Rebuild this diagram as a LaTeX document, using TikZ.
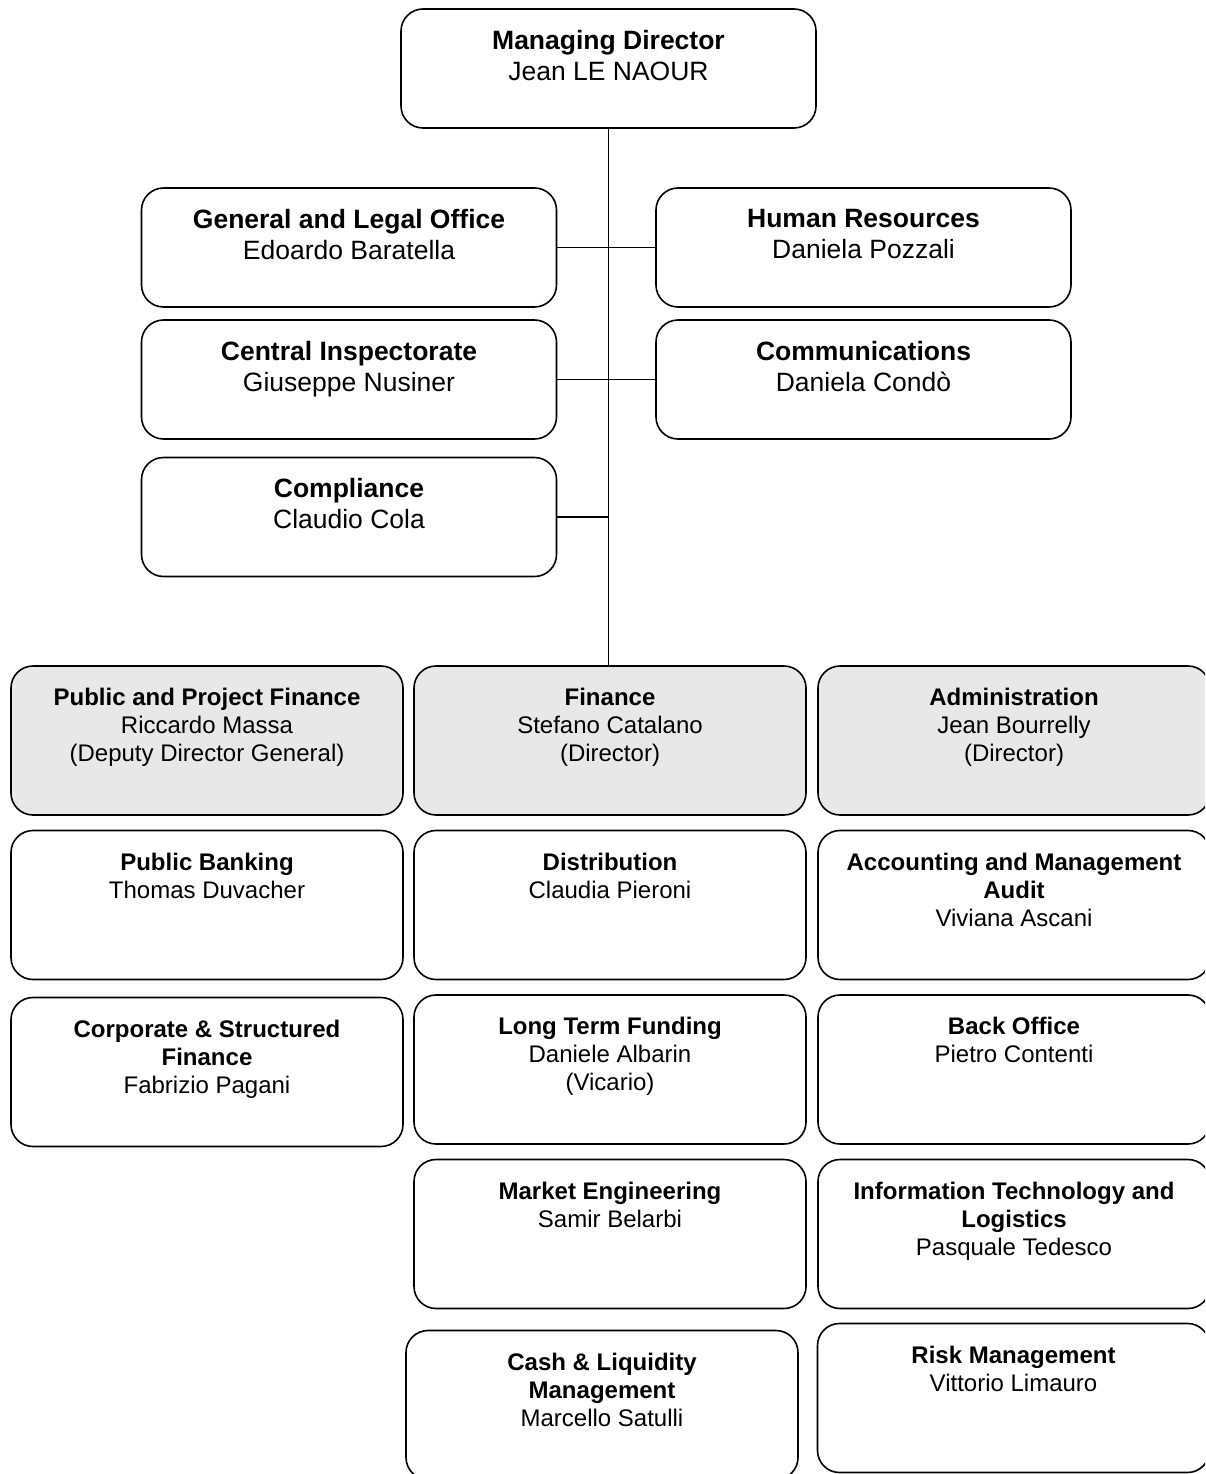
\documentclass[tikz,border=0pt]{standalone}
\usepackage{fontspec}
\setmainfont{Liberation Sans}
\definecolor{boxgray}{RGB}{232,232,232}
\begin{document}
\begin{tikzpicture}[x=1pt,y=-1pt,
  orgbox/.style={draw=black, line width=1.6pt, rounded corners=22pt, outer sep=0pt, inner sep=0pt, fill=white},
  topbox/.style={orgbox, minimum width=415pt, minimum height=119pt},
  unitbox/.style={orgbox, minimum width=392pt, minimum height=149pt},
  greybox/.style={unitbox, fill=boxgray},
  txt/.style={font=\fontsize{24}{28}\selectfont, align=center, inner sep=0pt, anchor=north},
  toptxt/.style={font=\fontsize{26.5}{31}\selectfont, align=center, inner sep=0pt, anchor=north},
  conn/.style={draw=black, line width=1.5pt}]
\useasboundingbox (0,0) rectangle (1205,1474);
\begin{scope}
\clip (0,0) rectangle (1205,1474);
% top boxes
\node[topbox] (md) at (608.5,68.5) {};
\node[topbox] (gen) at (349,247.5) {};
\node[topbox] (hr) at (863.5,247.5) {};
\node[topbox] (ci) at (349,379.5) {};
\node[topbox] (com) at (863.5,379.5) {};
\node[topbox] (cpl) at (349,517) {};
% directorates
\node[greybox] (ppf) at (207,740.5) {};
\node[greybox] (fin) at (610,740.5) {};
\node[greybox] (adm) at (1014,740.5) {};
% row 2
\node[unitbox] (pb) at (207,905) {};
\node[unitbox] (dis) at (610,905) {};
\node[unitbox] (acc) at (1014,905) {};
% row 3
\node[unitbox] (csf) at (207,1072) {};
\node[unitbox] (ltf) at (610,1069.5) {};
\node[unitbox] (bo) at (1014,1069.5) {};
% row 4
\node[unitbox] (me) at (610,1234) {};
\node[unitbox] (it) at (1014,1234) {};
% row 5
\node[unitbox] (cash) at (602,1405) {};
\node[unitbox] (risk) at (1013.5,1398) {};

% texts
\node[toptxt] (mdT) at ([yshift=-21pt]md.north) {\textbf{Managing Director}\\Jean LE NAOUR};
\node[toptxt] (genT) at ([yshift=-21pt]gen.north) {\textbf{General and Legal Office}\\Edoardo Baratella};
\node[toptxt] (hrT) at ([yshift=-21pt]hr.north) {\textbf{Human Resources}\\Daniela Pozzali};
\node[toptxt] (ciT) at ([yshift=-21pt]ci.north) {\textbf{Central Inspectorate}\\Giuseppe Nusiner};
\node[toptxt] (comT) at ([yshift=-21pt]com.north) {\textbf{Communications}\\Daniela Condò};
\node[toptxt] (cplT) at ([yshift=-21pt]cpl.north) {\textbf{Compliance}\\Claudio Cola};
\node[txt] (ppfT) at ([yshift=-22pt]ppf.north) {\textbf{Public and Project Finance}\\Riccardo Massa\\(Deputy Director General)};
\node[txt] (finT) at ([yshift=-22pt]fin.north) {\textbf{Finance}\\Stefano Catalano\\(Director)};
\node[txt] (admT) at ([yshift=-22pt]adm.north) {\textbf{Administration}\\Jean Bourrelly\\(Director)};
\node[txt] (pbT) at ([yshift=-22pt]pb.north) {\textbf{Public Banking}\\Thomas Duvacher};
\node[txt] (disT) at ([yshift=-22pt]dis.north) {\textbf{Distribution}\\Claudia Pieroni};
\node[txt] (accT) at ([yshift=-22pt]acc.north) {\textbf{Accounting and Management}\\\textbf{Audit}\\Viviana Ascani};
\node[txt] (csfT) at ([yshift=-22pt]csf.north) {\textbf{Corporate \& Structured}\\\textbf{Finance}\\Fabrizio Pagani};
\node[txt] (ltfT) at ([yshift=-22pt]ltf.north) {\textbf{Long Term Funding}\\Daniele Albarin\\(Vicario)};
\node[txt] (boT) at ([yshift=-22pt]bo.north) {\textbf{Back Office}\\Pietro Contenti};
\node[txt] (meT) at ([yshift=-22pt]me.north) {\textbf{Market Engineering}\\Samir Belarbi};
\node[txt] (itT) at ([yshift=-22pt]it.north) {\textbf{Information Technology and}\\\textbf{Logistics}\\Pasquale Tedesco};
\node[txt] (cashT) at ([yshift=-22pt]cash.north) {\textbf{Cash \& Liquidity}\\\textbf{Management}\\Marcello Satulli};
\node[txt] (riskT) at ([yshift=-22pt]risk.north) {\textbf{Risk Management}\\Vittorio Limauro};

% connectors
\coordinate (trunkEnd) at (md.south |- fin.north);
\draw[conn] (md.south) -- (trunkEnd);
\draw[conn] (gen.east) -- (hr.west);
\draw[conn] (ci.east) -- (com.west);
\coordinate (cplJoin) at (cpl.east -| md.south);
\draw[conn] (cpl.east) -- (cplJoin);
\end{scope}
\end{tikzpicture}
\end{document}
